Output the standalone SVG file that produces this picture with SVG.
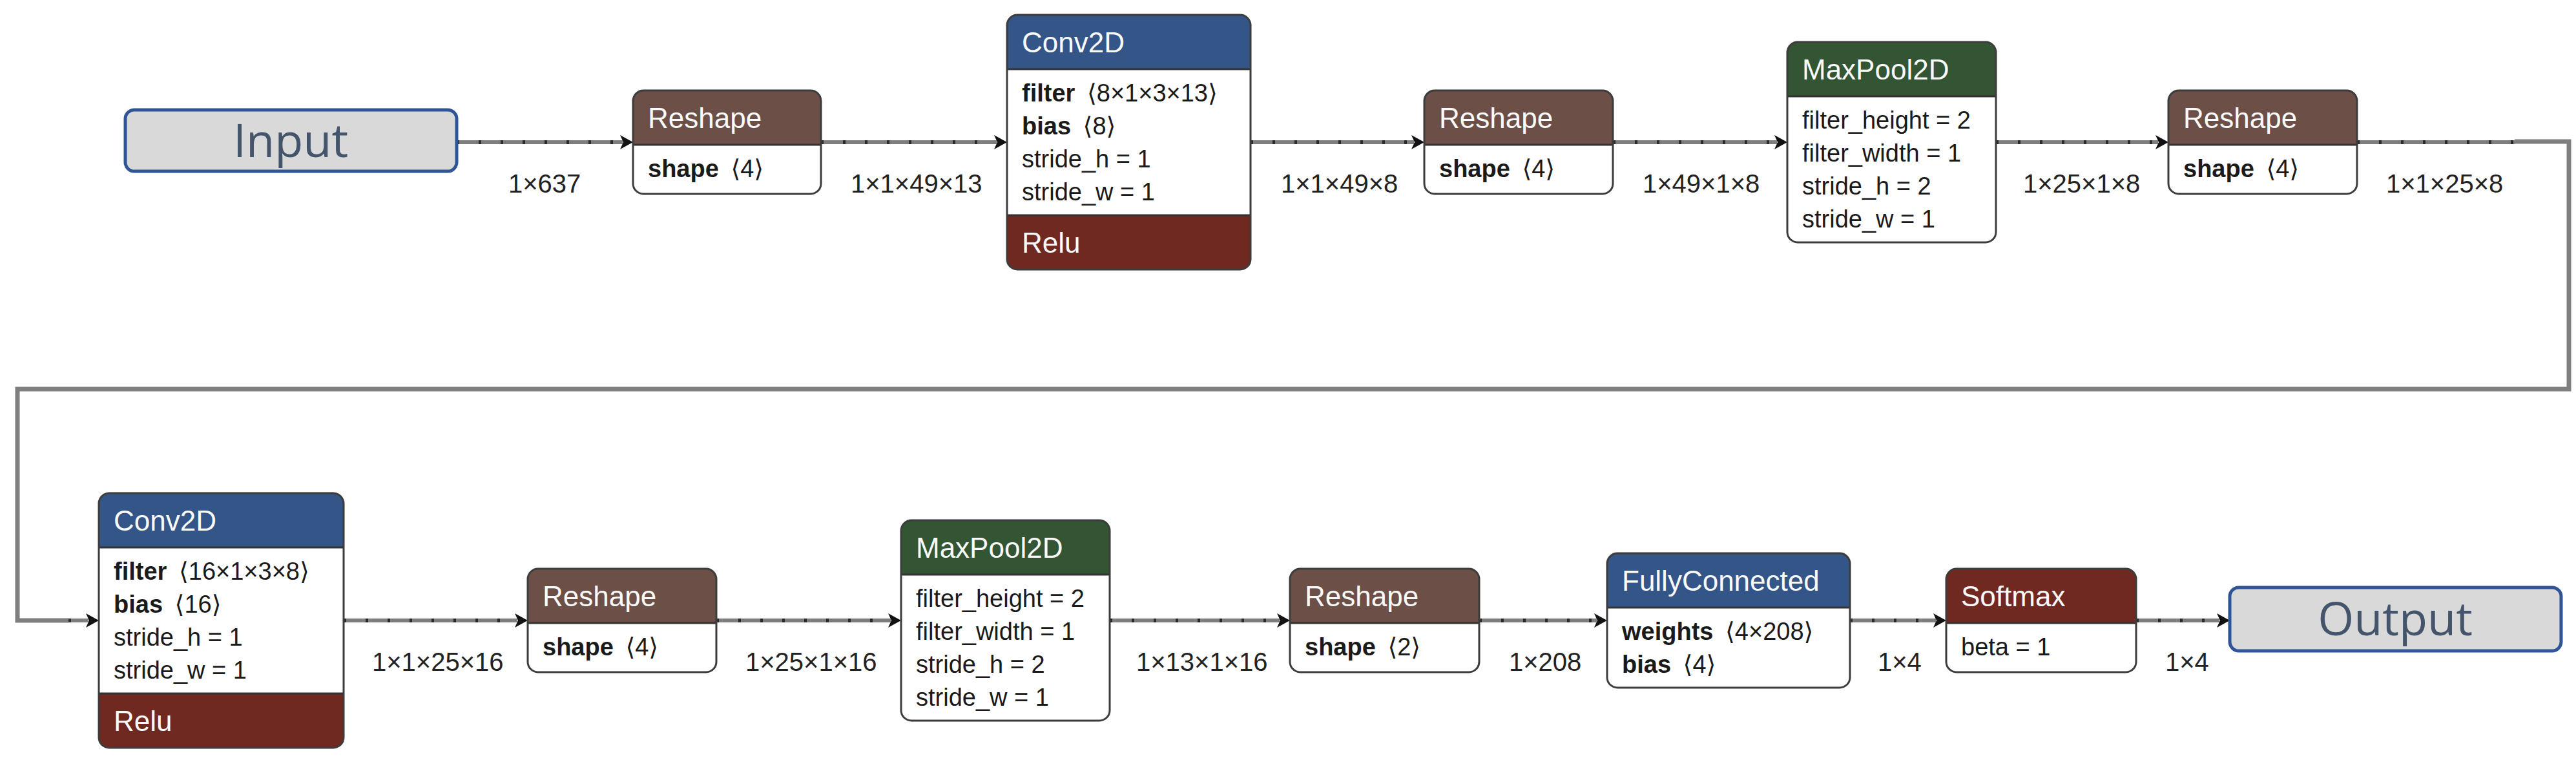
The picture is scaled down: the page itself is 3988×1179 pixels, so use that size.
<svg xmlns="http://www.w3.org/2000/svg" width="3988" height="1179" viewBox="0 0 3988 1179">
<style>
.hdr{font-family:"Liberation Sans",Arial,sans-serif;font-size:44px;fill:#fafafa}
.att{font-family:"Liberation Sans","DejaVu Sans",sans-serif;font-size:38px;fill:#1a1a1a}
.b{font-weight:bold}
.lbl{font-family:"Liberation Sans",Arial,sans-serif;font-size:40px;fill:#222}
.io rect{fill:#d9d9d9;stroke:#2f5597;stroke-width:5}
.io text{font-family:"Open Sans","Noto Sans",sans-serif;font-size:72px;fill:#44546a;text-anchor:middle}
.bg{fill:#fff}
.outline{fill:none;stroke:#3c3c3c;stroke-width:3}
.sep{stroke:#333;stroke-width:3}
.shape{fill:#6c4f47}
.layer{fill:#335588}
.pool{fill:#335533}
.act{fill:#702921}
.band{fill:none;stroke:#7d7d7d;stroke-width:6}
.dots{fill:none;stroke:#2a2a2a;stroke-width:6;stroke-dasharray:4 30}
.thick{fill:none;stroke:#7f7f7f;stroke-width:7}
</style>
<defs>
<marker id="arrow" markerUnits="userSpaceOnUse" viewBox="0 0 20 22" refX="4" refY="11" markerWidth="20" markerHeight="22" orient="auto">
<path d="M0,0 L20,11 L0,22 L5,11 Z" fill="#111"/>
</marker>
</defs>
<rect width="3988" height="1179" fill="#fff"/>

<g id="connectors">
<path class="band" marker-end="url(#arrow)" d="M707,220 H964"/><path class="dots" d="M707,220 H964"/>
<path class="band" marker-end="url(#arrow)" d="M1271,220 H1543"/><path class="dots" d="M1271,220 H1543"/>
<path class="band" marker-end="url(#arrow)" d="M1936,220 H2189"/><path class="dots" d="M1936,220 H2189"/>
<path class="band" marker-end="url(#arrow)" d="M2497,220 H2751"/><path class="dots" d="M2497,220 H2751"/>
<path class="band" marker-end="url(#arrow)" d="M3090,220 H3341"/><path class="dots" d="M3090,220 H3341"/>
<path class="band" d="M3649,220 H3893"/><path class="dots" d="M3649,220 H3893"/>
<path class="thick" d="M3893,219 H3977 V602 H27 V960 H106"/>
<path class="band" marker-end="url(#arrow)" d="M106,960 H137"/><path class="dots" d="M106,960 H137"/>
<path class="band" marker-end="url(#arrow)" d="M532,960 H801"/><path class="dots" d="M532,960 H801"/>
<path class="band" marker-end="url(#arrow)" d="M1109,960 H1379"/><path class="dots" d="M1109,960 H1379"/>
<path class="band" marker-end="url(#arrow)" d="M1718,960 H1981"/><path class="dots" d="M1718,960 H1981"/>
<path class="band" marker-end="url(#arrow)" d="M2290,960 H2472"/><path class="dots" d="M2290,960 H2472"/>
<path class="band" marker-end="url(#arrow)" d="M2864,960 H2997"/><path class="dots" d="M2864,960 H2997"/>
<path class="band" marker-end="url(#arrow)" d="M3307,960 H3436"/><path class="dots" d="M3307,960 H3436"/>
<text class="lbl" x="787" y="298">1×637</text>
<text class="lbl" x="1317" y="298">1×1×49×13</text>
<text class="lbl" x="1983" y="298">1×1×49×8</text>
<text class="lbl" x="2543" y="298">1×49×1×8</text>
<text class="lbl" x="3132" y="298">1×25×1×8</text>
<text class="lbl" x="3694" y="298">1×1×25×8</text>
<text class="lbl" x="576" y="1038">1×1×25×16</text>
<text class="lbl" x="1154" y="1038">1×25×1×16</text>
<text class="lbl" x="1759" y="1038">1×13×1×16</text>
<text class="lbl" x="2336" y="1038">1×208</text>
<text class="lbl" x="2907" y="1038">1×4</text>
<text class="lbl" x="3352" y="1038">1×4</text>
</g>

<g id="input" class="io">
<rect x="194" y="170" width="513" height="95" rx="14"/>
<text x="450" y="243">Input</text>
</g>

<g id="reshape1">
<rect class="bg" x="980" y="140" width="291" height="160" rx="16"/>
<path class="shape" d="M980,224 V156 A16,16 0 0 1 996,140 H1255 A16,16 0 0 1 1271,156 V224 Z"/>
<line class="sep" x1="980" y1="224" x2="1271" y2="224"/>
<rect class="outline" x="980" y="140" width="291" height="160" rx="16"/>
<text class="hdr" x="1003" y="198">Reshape</text>
<text class="att" x="1003" y="274"><tspan class="b">shape</tspan> <tspan dx="8">⟨4⟩</tspan></text>
</g>

<g id="conv1">
<rect class="bg" x="1559" y="23" width="377" height="394" rx="16"/>
<path class="layer" d="M1559,107 V39 A16,16 0 0 1 1575,23 H1920 A16,16 0 0 1 1936,39 V107 Z"/>
<path class="act" d="M1559,333 H1936 V401 A16,16 0 0 1 1920,417 H1575 A16,16 0 0 1 1559,401 Z"/>
<line class="sep" x1="1559" y1="107" x2="1936" y2="107"/>
<line class="sep" x1="1559" y1="333" x2="1936" y2="333"/>
<rect class="outline" x="1559" y="23" width="377" height="394" rx="16"/>
<text class="hdr" x="1582" y="81">Conv2D</text>
<text class="att" x="1582" y="157"><tspan class="b">filter</tspan> <tspan dx="8">⟨8×1×3×13⟩</tspan></text>
<text class="att" x="1582" y="208"><tspan class="b">bias</tspan> <tspan dx="8">⟨8⟩</tspan></text>
<text class="att" x="1582" y="259">stride_h = 1</text>
<text class="att" x="1582" y="310">stride_w = 1</text>
<text class="hdr" x="1582" y="391">Relu</text>
</g>

<g id="reshape2">
<rect class="bg" x="2205" y="140" width="292" height="160" rx="16"/>
<path class="shape" d="M2205,224 V156 A16,16 0 0 1 2221,140 H2481 A16,16 0 0 1 2497,156 V224 Z"/>
<line class="sep" x1="2205" y1="224" x2="2497" y2="224"/>
<rect class="outline" x="2205" y="140" width="292" height="160" rx="16"/>
<text class="hdr" x="2228" y="198">Reshape</text>
<text class="att" x="2228" y="274"><tspan class="b">shape</tspan> <tspan dx="8">⟨4⟩</tspan></text>
</g>

<g id="maxpool1">
<rect class="bg" x="2767" y="65" width="323" height="310" rx="16"/>
<path class="pool" d="M2767,149 V81 A16,16 0 0 1 2783,65 H3074 A16,16 0 0 1 3090,81 V149 Z"/>
<line class="sep" x1="2767" y1="149" x2="3090" y2="149"/>
<rect class="outline" x="2767" y="65" width="323" height="310" rx="16"/>
<text class="hdr" x="2790" y="123">MaxPool2D</text>
<text class="att" x="2790" y="199">filter_height = 2</text>
<text class="att" x="2790" y="250">filter_width = 1</text>
<text class="att" x="2790" y="301">stride_h = 2</text>
<text class="att" x="2790" y="352">stride_w = 1</text>
</g>

<g id="reshape3">
<rect class="bg" x="3357" y="140" width="292" height="160" rx="16"/>
<path class="shape" d="M3357,224 V156 A16,16 0 0 1 3373,140 H3633 A16,16 0 0 1 3649,156 V224 Z"/>
<line class="sep" x1="3357" y1="224" x2="3649" y2="224"/>
<rect class="outline" x="3357" y="140" width="292" height="160" rx="16"/>
<text class="hdr" x="3380" y="198">Reshape</text>
<text class="att" x="3380" y="274"><tspan class="b">shape</tspan> <tspan dx="8">⟨4⟩</tspan></text>
</g>

<g id="conv2">
<rect class="bg" x="153" y="763" width="379" height="394" rx="16"/>
<path class="layer" d="M153,847 V779 A16,16 0 0 1 169,763 H516 A16,16 0 0 1 532,779 V847 Z"/>
<path class="act" d="M153,1073 H532 V1141 A16,16 0 0 1 516,1157 H169 A16,16 0 0 1 153,1141 Z"/>
<line class="sep" x1="153" y1="847" x2="532" y2="847"/>
<line class="sep" x1="153" y1="1073" x2="532" y2="1073"/>
<rect class="outline" x="153" y="763" width="379" height="394" rx="16"/>
<text class="hdr" x="176" y="821">Conv2D</text>
<text class="att" x="176" y="897"><tspan class="b">filter</tspan> <tspan dx="8">⟨16×1×3×8⟩</tspan></text>
<text class="att" x="176" y="948"><tspan class="b">bias</tspan> <tspan dx="8">⟨16⟩</tspan></text>
<text class="att" x="176" y="999">stride_h = 1</text>
<text class="att" x="176" y="1050">stride_w = 1</text>
<text class="hdr" x="176" y="1131">Relu</text>
</g>

<g id="reshape4">
<rect class="bg" x="817" y="880" width="292" height="160" rx="16"/>
<path class="shape" d="M817,964 V896 A16,16 0 0 1 833,880 H1093 A16,16 0 0 1 1109,896 V964 Z"/>
<line class="sep" x1="817" y1="964" x2="1109" y2="964"/>
<rect class="outline" x="817" y="880" width="292" height="160" rx="16"/>
<text class="hdr" x="840" y="938">Reshape</text>
<text class="att" x="840" y="1014"><tspan class="b">shape</tspan> <tspan dx="8">⟨4⟩</tspan></text>
</g>

<g id="maxpool2">
<rect class="bg" x="1395" y="805" width="323" height="310" rx="16"/>
<path class="pool" d="M1395,889 V821 A16,16 0 0 1 1411,805 H1702 A16,16 0 0 1 1718,821 V889 Z"/>
<line class="sep" x1="1395" y1="889" x2="1718" y2="889"/>
<rect class="outline" x="1395" y="805" width="323" height="310" rx="16"/>
<text class="hdr" x="1418" y="863">MaxPool2D</text>
<text class="att" x="1418" y="939">filter_height = 2</text>
<text class="att" x="1418" y="990">filter_width = 1</text>
<text class="att" x="1418" y="1041">stride_h = 2</text>
<text class="att" x="1418" y="1092">stride_w = 1</text>
</g>

<g id="reshape5">
<rect class="bg" x="1997" y="880" width="293" height="160" rx="16"/>
<path class="shape" d="M1997,964 V896 A16,16 0 0 1 2013,880 H2274 A16,16 0 0 1 2290,896 V964 Z"/>
<line class="sep" x1="1997" y1="964" x2="2290" y2="964"/>
<rect class="outline" x="1997" y="880" width="293" height="160" rx="16"/>
<text class="hdr" x="2020" y="938">Reshape</text>
<text class="att" x="2020" y="1014"><tspan class="b">shape</tspan> <tspan dx="8">⟨2⟩</tspan></text>
</g>

<g id="fullyconnected">
<rect class="bg" x="2488" y="856" width="376" height="208" rx="16"/>
<path class="layer" d="M2488,940 V872 A16,16 0 0 1 2504,856 H2848 A16,16 0 0 1 2864,872 V940 Z"/>
<line class="sep" x1="2488" y1="940" x2="2864" y2="940"/>
<rect class="outline" x="2488" y="856" width="376" height="208" rx="16"/>
<text class="hdr" x="2511" y="914">FullyConnected</text>
<text class="att" x="2511" y="990"><tspan class="b">weights</tspan> <tspan dx="8">⟨4×208⟩</tspan></text>
<text class="att" x="2511" y="1041"><tspan class="b">bias</tspan> <tspan dx="8">⟨4⟩</tspan></text>
</g>

<g id="softmax">
<rect class="bg" x="3013" y="880" width="294" height="160" rx="16"/>
<path class="act" d="M3013,964 V896 A16,16 0 0 1 3029,880 H3291 A16,16 0 0 1 3307,896 V964 Z"/>
<line class="sep" x1="3013" y1="964" x2="3307" y2="964"/>
<rect class="outline" x="3013" y="880" width="294" height="160" rx="16"/>
<text class="hdr" x="3036" y="938">Softmax</text>
<text class="att" x="3036" y="1014">beta = 1</text>
</g>

<g id="output" class="io">
<rect x="3452" y="909" width="513" height="98" rx="14"/>
<text x="3708" y="983">Output</text>
</g>
</svg>
